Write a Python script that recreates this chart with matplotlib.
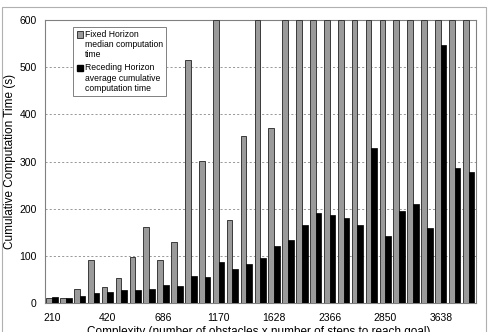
import matplotlib
matplotlib.use("Agg")
import matplotlib.pyplot as plt
from matplotlib.patches import Rectangle, Patch
from matplotlib.legend_handler import HandlerPatch
import numpy as np

plt.rcParams['font.family'] = ['Liberation Sans', 'DejaVu Sans']

# Data (31 complexity categories; values above 600 are clipped at the axis top)
fixed_horizon = [10, 10, 30, 91, 34, 53, 98, 162, 91, 129, 516, 301, 600, 177, 355,
                 600, 372, 600, 600, 600, 600, 600, 600, 600, 600, 600, 600, 600,
                 600, 600, 600]
receding_horizon = [12, 11, 15, 21, 23, 27, 27, 30, 39, 37, 58, 55, 87, 73, 83,
                    95, 121, 133, 165, 190, 187, 180, 165, 328, 142, 194, 210, 158,
                    548, 286, 277]
tick_labels = ['210', '420', '686', '1170', '1628', '2366', '2850', '3638']
tick_step = 4
y_ticks = [0, 100, 200, 300, 400, 500, 600]
series_names = ['Fixed Horizon\nmedian computation\ntime',
                'Receding Horizon\naverage cumulative\ncomputation time']

W, H = 492, 332
fig = plt.figure(figsize=(W / 100, H / 100), dpi=100)
ax = fig.add_axes([45 / W, 1 - 303 / H, 430.5 / W, 283 / H])

n = len(fixed_horizon)
x = np.arange(n)
bw = 0.41
gray_fc = '#9a9a9a'
gray_ec = '#3a3a3a'
ax.bar(x - bw / 2, fixed_horizon, width=bw, color=gray_fc, edgecolor=gray_ec,
       linewidth=0.7, zorder=3)
ax.bar(x + bw / 2, receding_horizon, width=bw, color='black', edgecolor='black',
       linewidth=0.5, zorder=3)

ax.set_xlim(-0.5, n - 0.5)
ax.set_ylim(0, 600)
ax.set_yticks(y_ticks)
ax.set_yticklabels([str(v) for v in y_ticks], fontsize=7.5)
ax.set_xticks(x[::tick_step])
ax.set_xticklabels(tick_labels, fontsize=7.5)
ax.tick_params(axis='both', length=0)
ax.tick_params(axis='y', pad=6)
ax.tick_params(axis='x', pad=7)

for yv in y_ticks[1:-1]:
    ax.axhline(yv, color='#888888', linewidth=0.6, linestyle=(0, (2.5, 2.5)), zorder=1)

for s in ax.spines.values():
    s.set_color('#808080')
    s.set_linewidth(0.8)


def top_square(legend, orig_handle, xdescent, ydescent, width, height, fontsize):
    shift = fontsize * 1.2
    return Rectangle((-xdescent + (width - height) / 2, -ydescent + shift), height, height)


handles = [Patch(facecolor=gray_fc, edgecolor=gray_ec, linewidth=0.7),
           Patch(facecolor='black', edgecolor='black')]
leg = ax.legend(handles, series_names, loc='upper left',
                bbox_to_anchor=(0.066, 0.977), fontsize=6.2,
                handlelength=0.75, handleheight=0.75, handletextpad=0.25,
                borderpad=0.35, labelspacing=0.45, frameon=True, fancybox=False,
                borderaxespad=0,
                handler_map={Patch: HandlerPatch(patch_func=top_square)})
leg.get_frame().set_edgecolor('#808080')
leg.get_frame().set_linewidth(0.7)
leg.get_frame().set_alpha(1)
leg.set_zorder(5)

fig.text(10 / W, 1 - 161.5 / H, 'Cumulative Computation Time (s)', rotation=90,
         ha='center', va='center', fontsize=8.5)
fig.text(259 / W, 1 - 326 / H,
         'Complexity (number of obstacles x number of steps to reach goal)',
         ha='center', va='top', fontsize=8.5)

fig.patches.append(Rectangle((1.5 / W, -0.05), 484 / W, 1.05 - 7 / H,
                             transform=fig.transFigure, fill=False,
                             edgecolor='#b0b0b0', linewidth=0.8))

fig.savefig('out.png', dpi=100)
